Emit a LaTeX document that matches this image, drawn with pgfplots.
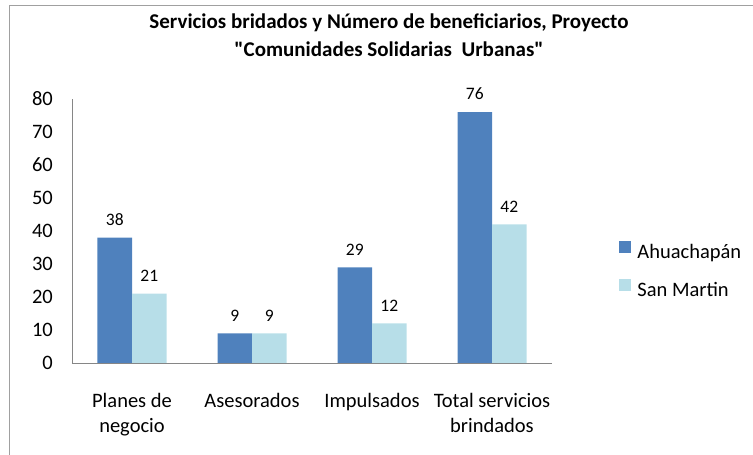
\documentclass[border=0pt]{standalone}
\usepackage{fontspec}
\setmainfont{Carlito}
\usepackage{pgfplots}
\pgfplotsset{compat=1.18}
\definecolor{ahua}{HTML}{4F81BD}
\definecolor{sanm}{HTML}{B7DEE8}
\definecolor{axisgray}{HTML}{868686}
\definecolor{framegray}{HTML}{A0A0A0}

\begin{document}
\begin{tikzpicture}
\path[use as bounding box] (-72pt,-92pt) rectangle (681pt,363pt);
\draw[framegray, line width=1.5pt] (-62.5pt,-92pt) -- (-62.5pt,357.5pt) -- (681pt,357.5pt);
\begin{axis}[
  scale only axis, width=480pt, height=264pt,
  ybar=0pt, bar width=34.5pt,
  ymin=0, ymax=80, ytick={0,10,...,80},
  xmin=-0.5, xmax=3.5, xtick=data,
  xticklabels={{Planes de\\negocio},{Asesorados},{Impulsados},{Total servicios\\brindados}},
  axis x line*=bottom, axis y line*=left,
  axis line style={axisgray, line width=0.8pt},
  tick style={draw=none},
  /pgf/number format/assume math mode=true,
  yticklabel style={font=\fontsize{20.5}{20.5}\selectfont, anchor=east, inner sep=0pt, xshift=-19pt},
  xticklabel style={font=\fontsize{20.5}{25}\selectfont, align=center, anchor=north, inner sep=0pt, yshift=-26pt},
  nodes near coords,
  every node near coord/.append style={font=\fontsize{17.5}{17.5}\selectfont, anchor=south, inner sep=0pt, yshift=12pt, black},
  legend style={draw=none, fill=none,
    at={(1.14,0.347)}, anchor=west, row sep=16pt, inner sep=0pt,
    nodes={font=\fontsize{20.5}{20.5}\selectfont, inner sep=0pt, text height=14pt, text depth=5pt},
    /tikz/every odd column/.style={column sep=6pt}},
  legend cell align=left,
  legend image code/.code={\fill[#1,draw=none] (0pt,1pt) rectangle (12pt,13pt);},
]
\addplot[fill=ahua, draw=none] coordinates {(0,38) (1,9) (2,29) (3,76)};
\addplot[fill=sanm, draw=none] coordinates {(0,21) (1,9) (2,12) (3,42)};
\legend{Ahuachapán, San Martin}
\end{axis}
\node[font=\bfseries\fontsize{21}{28}\selectfont, align=center] at (317pt,328pt)
  {Servicios bridados y Número de beneficiarios, Proyecto\\\textquotedbl Comunidades Solidarias\ \ Urbanas\textquotedbl};
\end{tikzpicture}
\end{document}
